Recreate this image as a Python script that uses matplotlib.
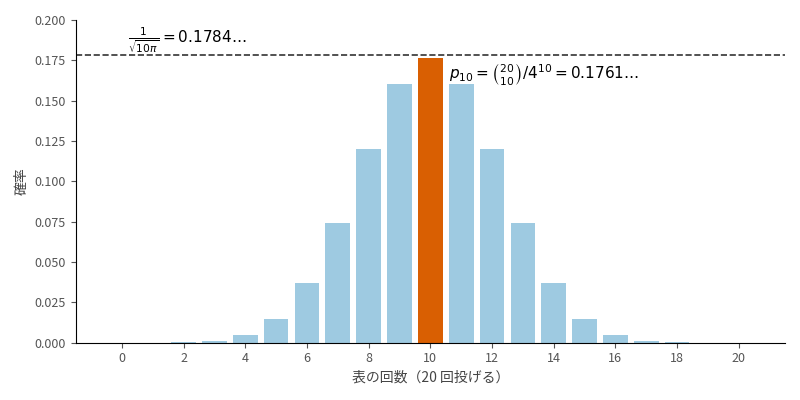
import matplotlib
matplotlib.use("Agg")
import matplotlib.pyplot as plt

plt.rcParams['font.family'] = ['Noto Sans CJK JP', 'DejaVu Sans']

heads = list(range(21))
probs = [0.00000095, 0.0000191, 0.000181, 0.001087, 0.004621, 0.014786,
         0.036964, 0.073929, 0.120134, 0.160179, 0.176197, 0.160179,
         0.120134, 0.073929, 0.036964, 0.014786, 0.004621, 0.001087,
         0.000181, 0.0000191, 0.00000095]
limit_value = 0.1784
colors = ['#d95f02' if k == 10 else '#9ecae1' for k in heads]

fig, ax = plt.subplots(figsize=(8, 4), dpi=100)
ax.bar(heads, probs, color=colors, width=0.8)
ax.axhline(limit_value, color='#333333', linestyle='--', linewidth=1.2)
ax.text(0.2, limit_value, r'$\frac{1}{\sqrt{10\pi}} = 0.1784\ldots$', fontsize=11,
        va='bottom', family='DejaVu Sans')
ax.text(10.6, 0.1635, r'$p_{10} = \binom{20}{10}/4^{10} = 0.1761\ldots$', fontsize=11,
        family='DejaVu Sans')

ax.set_xlim(-1.5, 21.5)
ax.set_ylim(0, 0.2)
ax.set_xticks(range(0, 21, 2))
ax.set_yticks([i * 0.025 for i in range(9)])
ax.set_yticklabels([f'{i * 0.025:.3f}' for i in range(9)])
ax.tick_params(labelsize=9, colors='#555555')
ax.set_xlabel('表の回数（20 回投げる）', fontsize=10, color='#444444')
ax.set_ylabel('確率', fontsize=10, color='#444444')
ax.spines['top'].set_visible(False)
ax.spines['right'].set_visible(False)

plt.tight_layout()
plt.savefig('out.png')
